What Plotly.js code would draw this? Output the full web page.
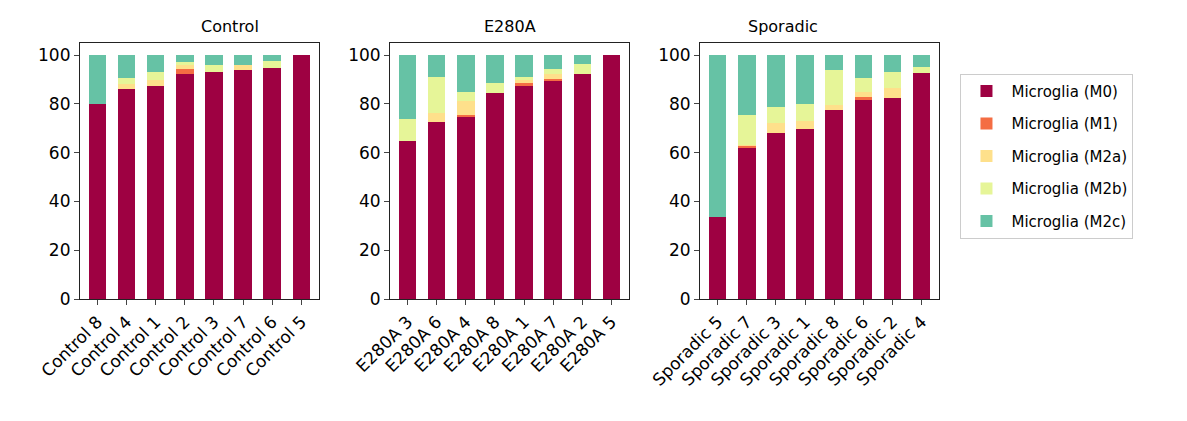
<!DOCTYPE html>
<html><head><meta charset="utf-8">
<script src="https://cdn.plot.ly/plotly-3.0.1.min.js"></script>
<style>body{margin:0}</style></head>
<body><div id="chart" style="width:1187px;height:421px"></div>
<script>
var groups = ["Control", "E280A", "Sporadic"];
var samples = [
  ["Control 8","Control 4","Control 1","Control 2","Control 3","Control 7","Control 6","Control 5"],
  ["E280A 3","E280A 6","E280A 4","E280A 8","E280A 1","E280A 7","E280A 2","E280A 5"],
  ["Sporadic 5","Sporadic 7","Sporadic 3","Sporadic 1","Sporadic 8","Sporadic 6","Sporadic 2","Sporadic 4"]
];
var states = ["Microglia (M0)","Microglia (M1)","Microglia (M2a)","Microglia (M2b)","Microglia (M2c)"];
var colors = ["#9e0142","#f46d43","#fee08b","#e6f598","#66c2a5"];
// percent per state, per group
var m0  = [[80,86.1,87.3,92.2,93,93.9,94.7,100],[65,72.7,75,84.4,87.7,89.3,92.2,100],[33.5,62.3,68,69.7,77.5,81.6,82.4,92.6]];
var m1  = [[0,0,0,2.1,0,0,0,0],[0,0,0.4,0,0.8,0.9,0,0],[0,0.5,0,0,0,1.2,0,0]];
var m2a = [[0,2,2.5,1.6,0,2,0,0],[0,3.7,5.7,0,1.7,2.1,0,0],[0,0.3,4.1,3.3,2,2,4.1,0]];
var m2b = [[0,2.5,3.2,1.2,2.9,0,2.8,0],[8.8,14.6,3.7,4.1,0.8,2,4.1,0],[0,12.3,6.6,6.9,14.4,5.8,6.5,2.5]];
var m2c = [[20,9.4,7,2.9,4.1,4.1,2.5,0],[26.2,9,15.2,11.5,9,5.7,3.7,0],[66.5,24.6,21.3,20.1,6.1,9.4,7,4.9]];
var values = [m0, m1, m2a, m2b, m2c];

var domains = [[0,0.278],[0.361,0.639],[0.722,1]];
var data = [];
var layout = {
  barmode: "stack", bargap: 0.4,
  margin: {l: 80, r: 248, t: 43, b: 122},
  paper_bgcolor: "white", plot_bgcolor: "white",
  font: {family: "DejaVu Sans", size: 16, color: "#000"},
  legend: {x: 1.025, y: 0.88, xanchor: "left", yanchor: "top", bordercolor: "#ccc", borderwidth: 1,
           font: {size: 15}, itemwidth: 40},
  annotations: []
};
for (var g = 0; g < 3; g++) {
  var xs = g == 0 ? "" : String(g + 1);
  for (var s = 0; s < 5; s++) {
    data.push({type: "bar", x: samples[g], y: values[s][g], name: states[s],
      marker: {color: colors[s]}, xaxis: "x" + xs, yaxis: "y" + xs,
      showlegend: g == 0, legendgroup: states[s], hoverinfo: "y"});
  }
  var ax = {domain: domains[g], anchor: "y" + xs, tickangle: -45, showline: true, mirror: true,
    linecolor: "#222", linewidth: 1.2, ticks: "outside", ticklen: 5, tickfont: {size: 17},
    range: [-0.6, 7.6], fixedrange: true};
  var ay = {anchor: "x" + xs, range: [0, 105], showline: true, mirror: true, linecolor: "#222",
    linewidth: 1.2, ticks: "outside", ticklen: 5, tickvals: [0,20,40,60,80,100], showgrid: false,
    zeroline: false, tickfont: {size: 17}};
  layout["xaxis" + xs] = ax;
  layout["yaxis" + xs] = ay;
  layout.annotations.push({text: groups[g], xref: "paper", yref: "paper",
    x: (domains[g][0] + domains[g][1]) / 2, y: 1, yanchor: "bottom", yshift: 5,
    showarrow: false, font: {size: 16}});
}
Plotly.newPlot("chart", data, layout, {displayModeBar: false});
</script></body></html>
